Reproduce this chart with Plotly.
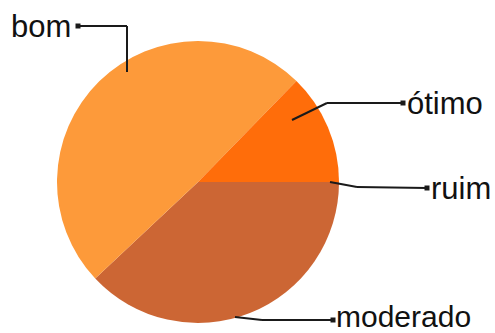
import plotly.graph_objects as go

# slices listed clockwise from 3 o'clock
labels = ["ruim", "moderado", "bom", "ótimo"]
values = [0, 38, 49.3, 12.7]
colors = ["#D9D9D9", "#CC6634", "#FD9A3A", "#FF6D0A"]

W, H = 495, 333
cx, cy, r = 198, 182, 141

fig = go.Figure()
fig.add_trace(go.Pie(
    labels=labels, values=values, sort=False, direction="clockwise",
    rotation=90, textinfo="none", hoverinfo="label+value",
    marker=dict(colors=colors, line=dict(width=0)),
    domain=dict(x=[(cx - r) / W, (cx + r) / W], y=[(H - cy - r) / H, (H - cy + r) / H]),
    showlegend=False,
))

# leader lines (pixel coordinates on a hidden axis)
leaders = {
    "bom": [(127, 72), (127, 26), (78, 26)],
    "ótimo": [(292, 120), (327, 103), (403, 103)],
    "ruim": [(330, 182), (357, 187), (427, 188)],
    "moderado": [(235, 317), (262, 320), (333, 320)],
}
text_pos = {
    "bom": (10, 26, 31),
    "ótimo": (406, 103, 31),
    "ruim": (430, 188, 31),
    "moderado": (335, 316, 30),
}
shapes = []
for lab, pts in leaders.items():
    for (x0, y0), (x1, y1) in zip(pts[:-1], pts[1:]):
        shapes.append(dict(type="line", xref="x", yref="y", x0=x0, y0=y0, x1=x1, y1=y1,
                           line=dict(color="#1a1a1a", width=2), layer="above"))
    ex, ey = pts[-1]
    shapes.append(dict(type="rect", xref="x", yref="y", x0=ex - 2.5, x1=ex + 2.5, y0=ey - 2.5, y1=ey + 2.5,
                       fillcolor="#1a1a1a", line=dict(width=0), layer="above"))

annotations = []
for lab, (tx, ty, fs) in text_pos.items():
    annotations.append(dict(text=lab, x=tx, y=ty, xref="x", yref="y", xanchor="left", yanchor="middle",
                            showarrow=False, font=dict(family="Liberation Sans, Arial", size=fs, color="#111111"),
                            borderpad=0))

fig.update_layout(
    width=W, height=H, margin=dict(l=0, r=0, t=0, b=0),
    paper_bgcolor="white", plot_bgcolor="rgba(0,0,0,0)",
    xaxis=dict(range=[0, W], visible=False, fixedrange=True),
    yaxis=dict(range=[H, 0], visible=False, fixedrange=True),
    shapes=shapes, annotations=annotations,
)
fig.write_html("out.html")
